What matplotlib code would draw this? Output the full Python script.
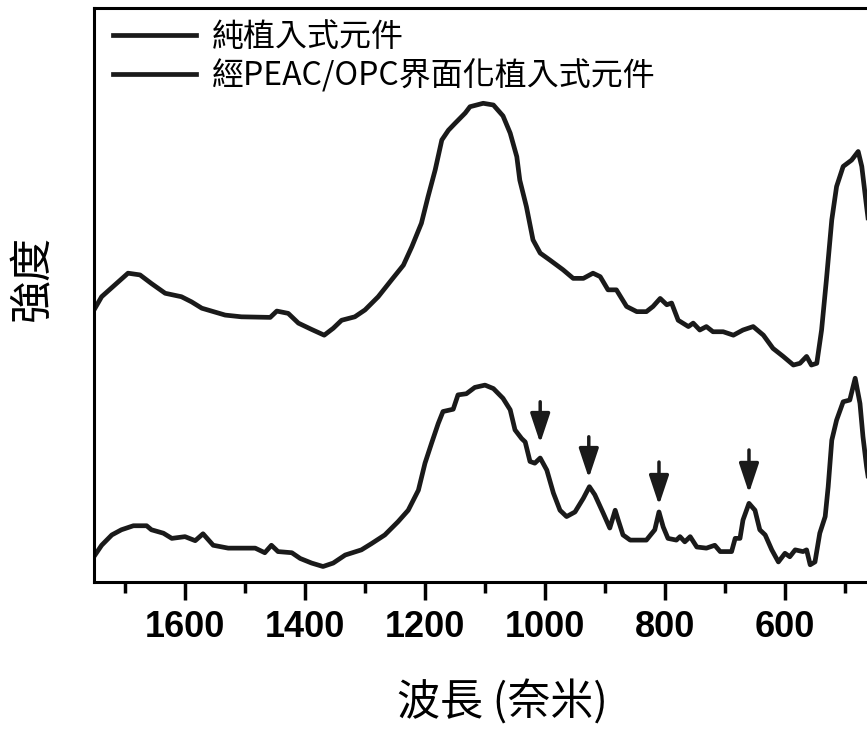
import matplotlib.pyplot as plt
from matplotlib.ticker import MultipleLocator

plt.rcParams['font.family'] = ['Noto Sans CJK TC', 'DejaVu Sans']

# plain implant (upper trace)
wn_plain = [1750, 1739, 1695, 1675, 1656, 1633, 1606, 1589, 1572, 1533, 1506, 1458,
            1447, 1428, 1411, 1389, 1368, 1353, 1339, 1317, 1300, 1278, 1256, 1236,
            1222, 1206, 1195, 1183, 1172, 1161, 1150, 1133, 1125, 1103, 1086, 1070,
            1058, 1047, 1042, 1031, 1020, 1008, 992, 970, 953, 936, 920, 908, 895,
            881, 864, 847, 831, 820, 808, 797, 789, 778, 761, 753, 742, 731, 720,
            703, 686, 670, 653, 636, 620, 603, 586, 575, 564, 556, 547, 539, 531,
            522, 514, 503, 489, 478, 472, 464, 455]
int_plain = [47.7, 49.7, 53.8, 53.5, 52.0, 50.3, 49.7, 48.8, 47.7, 46.5, 46.2, 46.1,
             47.2, 46.8, 45.1, 44.0, 43.0, 44.2, 45.6, 46.2, 47.4, 49.7, 52.6, 55.2,
             58.4, 62.5, 67.1, 71.8, 77.0, 78.7, 79.9, 81.7, 82.8, 83.4, 83.1, 81.2,
             78.2, 74.1, 70.0, 65.4, 59.6, 57.3, 56.1, 54.4, 52.9, 52.9, 53.8, 53.2, 50.9,
             50.9, 48.0, 47.1, 47.1, 48.0, 49.4, 48.3, 48.6, 45.6, 44.5, 45.1, 43.9, 44.5, 43.6,
             43.6, 43.0, 43.9, 44.5, 43.0, 40.7, 39.3, 37.8, 38.1, 39.3, 37.8, 38.1, 43.9, 52.6,
             63.1, 68.9, 72.4, 73.5, 75.0, 72.4, 65.4, 58.0]

# implant with PEAC/OPC interface (lower trace)
wn_peac = [1750, 1739, 1722, 1706, 1686, 1664, 1656, 1636, 1622, 1600, 1583, 1570,
           1553, 1528, 1483, 1467, 1456, 1445, 1422, 1408, 1389, 1370, 1353, 1333,
           1306, 1289, 1267, 1245, 1228, 1211, 1200, 1189, 1178, 1170, 1153, 1145,
           1131, 1117, 1100, 1086, 1070, 1058, 1050, 1039, 1033, 1025, 1017, 1008,
           997, 986, 975, 964, 950, 936, 926, 917, 903, 892, 883, 878, 870, 858,
           831, 817, 810, 803, 795, 781, 775, 767, 758, 747, 731, 717, 708, 689,
           683, 675, 670, 660, 650, 642, 633, 622, 611, 600, 592, 583, 570, 564,
           558, 550, 542, 533, 528, 522, 514, 503, 492, 483, 475, 470, 464, 455]
int_peac = [4.7, 6.4, 8.2, 9.1, 9.8, 9.8, 9.1, 8.5, 7.6, 7.9, 7.2, 8.4,
            6.4, 5.9, 5.9, 5.1, 6.4, 5.3, 5.1, 4.1, 3.3, 2.7, 3.3, 4.7,
            5.6, 6.7, 8.2, 10.5, 12.5, 16.0, 20.7, 24.2, 27.6, 29.7, 30.1, 32.6,
            32.8, 33.9, 34.3, 33.7, 32.0, 30.0, 26.5, 25.0, 24.4, 21.0, 20.7, 21.6,
            19.5, 15.5, 12.5, 11.4, 12.2, 14.6, 16.6, 15.2, 12.0, 9.4, 12.5, 10.8, 8.2, 7.3,
            7.3, 9.1, 12.2, 9.6, 7.6, 7.3, 7.9, 7.0, 7.9, 6.1, 5.9, 6.4, 5.3, 5.3,
            7.6, 7.6, 10.8, 13.7, 12.5, 9.1, 8.2, 5.6, 3.5, 5.0, 4.4, 5.6, 5.3, 5.6,
            3.0, 3.5, 8.5, 11.4, 16.6, 24.7, 28.2, 31.4, 31.7, 35.5, 31.1, 25.3, 20.1, 14.0]

# arrows marking the new bands on the lower trace
arrow_wn = [1008, 927, 810, 660]
arrow_tip = [24.2, 18.1, 13.4, 15.5]
arrow_tail = [31.4, 25.3, 20.9, 23.0]

series_names = ['純植入式元件', '經PEAC/OPC界面化植入式元件']
major_ticks = [1600, 1400, 1200, 1000, 800, 600]

fig = plt.figure(figsize=(8.67, 7.31), dpi=100)
ax = fig.add_axes([94 / 867, 149 / 731, 773 / 867, 574 / 731])

ax.plot(wn_plain, int_plain, color='#1a1a1a', lw=3.4, label=series_names[0])
ax.plot(wn_peac, int_peac, color='#1a1a1a', lw=3.4, label=series_names[1])

for w, tip, tail in zip(arrow_wn, arrow_tip, arrow_tail):
    ax.annotate('', xy=(w, tip), xytext=(w, tail),
                arrowprops=dict(arrowstyle='-|>,head_length=0.9,head_width=0.3',
                                lw=2.5, color='#1a1a1a', shrinkA=0, shrinkB=0,
                                mutation_scale=20))

ax.set_xlim(1751.7, 463.3)
ax.set_ylim(0, 100)
ax.set_xticks(major_ticks)
ax.xaxis.set_minor_locator(MultipleLocator(100))
ax.set_yticks([])
ax.tick_params(axis='x', which='major', direction='out', length=13, width=2.5, pad=7)
ax.tick_params(axis='x', which='minor', direction='out', length=8, width=2.5)
for lbl in ax.get_xticklabels():
    lbl.set_fontfamily(['Liberation Sans', 'DejaVu Sans'])
    lbl.set_fontweight('bold')
    lbl.set_fontsize(26)

for side in ['left', 'top', 'bottom']:
    ax.spines[side].set_linewidth(2.2)
ax.spines['right'].set_visible(False)

ax.set_xlabel('波長 (奈米)', fontsize=31)
ax.xaxis.label.set_va('center')
ax.xaxis.set_label_coords(0.528, -0.211)
ax.set_ylabel('強度', fontsize=31)
ax.yaxis.label.set_va('center')
ax.yaxis.set_label_coords(-0.078, 0.53)

ax.legend(loc='upper left', frameon=False, fontsize=23, handlelength=2.6,
          handletextpad=0.5, labelspacing=0.2, borderaxespad=0.0,
          bbox_to_anchor=(0.008, 1.0))

fig.savefig('out.png', dpi=100)
